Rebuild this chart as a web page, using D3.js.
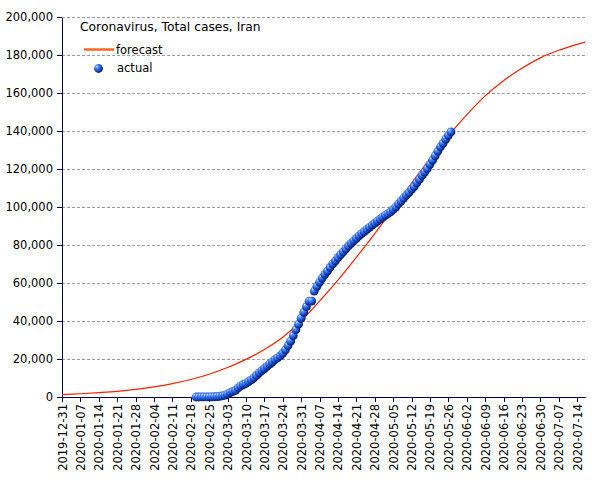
<!DOCTYPE html>
<html>
<head>
<meta charset="utf-8">
<script src="https://cdn.jsdelivr.net/npm/d3@7"></script>
<style>
  body { margin: 0; background: #fff; }
  text { font-family: "DejaVu Sans", sans-serif; fill: #000; }
</style>
</head>
<body>
<div id="chart"></div>
<script>
var svgWidth = 605;
var svgHeight = 480;

var margin = { top: 17, right: 20, bottom: 83, left: 62 };
var width = svgWidth - margin.left - margin.right;
var height = svgHeight - margin.top - margin.bottom;

// Data
// weekly tick labels on the x axis
var tickLabels = ["2019-12-31", "2020-01-07", "2020-01-14", "2020-01-21", "2020-01-28",
  "2020-02-04", "2020-02-11", "2020-02-18", "2020-02-25", "2020-03-03", "2020-03-10",
  "2020-03-17", "2020-03-24", "2020-03-31", "2020-04-07", "2020-04-14", "2020-04-21",
  "2020-04-28", "2020-05-05", "2020-05-12", "2020-05-19", "2020-05-26", "2020-06-02",
  "2020-06-09", "2020-06-16", "2020-06-23", "2020-06-30", "2020-07-07", "2020-07-14"];

var yTicks = [0, 20000, 40000, 60000, 80000, 100000, 120000, 140000, 160000, 180000, 200000];

// forecast curve
var forecastDates = ["2019-12-31", "2020-01-07", "2020-01-14", "2020-01-21", "2020-01-28",
  "2020-02-04", "2020-02-11", "2020-02-18", "2020-02-25", "2020-03-03", "2020-03-10",
  "2020-03-17", "2020-03-24", "2020-03-31", "2020-04-07", "2020-04-14", "2020-04-21",
  "2020-04-28", "2020-05-05", "2020-05-12", "2020-05-19", "2020-05-26", "2020-06-02",
  "2020-06-09", "2020-06-16", "2020-06-23", "2020-06-30", "2020-07-07", "2020-07-14",
  "2020-07-17"];
var forecastValues = [1200, 1700, 2300, 3000, 4000, 5300, 7000, 9200, 12000, 15500, 19800,
  25000, 31500, 40000, 50500, 61500, 73500, 86000, 99000, 112500, 125500, 137500, 148500,
  158500, 166500, 173000, 178500, 182500, 185600, 186800];

// actual daily totals, one per day starting at actualStart
var actualStart = "2020-02-20";
var actualValues = [2, 5, 18, 28, 43, 61, 95, 139, 245, 388,
  593, 978, 1501, 2336, 2922, 3513, 4747, 5823, 6566, 7161,
  8042, 9000, 10075, 11364, 12729, 13938, 14991, 16169, 17361, 18407,
  19644, 20610, 21638, 23049, 24811, 27017, 29406, 32332, 35408, 38309,
  41495, 44605, 47593, 50468, 50468, 55743, 58226, 60500, 62589, 64586,
  66220, 68192, 70029, 71686, 73303, 74877, 76389, 77995, 79494, 80868,
  82211, 83505, 84802, 85996, 87026, 88194, 89328, 90481, 91472, 92584,
  93657, 94640, 95646, 96448, 97424, 98647, 99970, 101650, 103135, 104691,
  106220, 107603, 109286, 110767, 112725, 114533, 116635, 118392, 120198, 122492,
  124603, 126949, 129341, 131652, 133521, 135701, 137724, 139511];

var parseDate = d3.timeParse("%Y-%m-%d");
var fmt = d3.format(",");

var forecast = forecastDates.map((d, i) => ({ date: parseDate(d), value: forecastValues[i] }));
var actual = actualValues.map((v, i) => ({ date: d3.timeDay.offset(parseDate(actualStart), i), value: v }));

var svg = d3.select("#chart")
  .append("svg")
  .attr("width", svgWidth)
  .attr("height", svgHeight);

// sphere look for the points
var defs = svg.append("defs");
var grad = defs.append("radialGradient")
  .attr("id", "ball")
  .attr("cx", "40%").attr("cy", "38%").attr("r", "65%")
  .attr("fx", "30%").attr("fy", "26%");
grad.append("stop").attr("offset", "0%").attr("stop-color", "#eef5ff");
grad.append("stop").attr("offset", "22%").attr("stop-color", "#5f98ff");
grad.append("stop").attr("offset", "60%").attr("stop-color", "#1e56dc");
grad.append("stop").attr("offset", "100%").attr("stop-color", "#07145a");

var chartGroup = svg.append("g")
  .attr("transform", `translate(${margin.left}, ${margin.top})`);

var xScale = d3.scaleTime()
  .domain([parseDate("2019-12-31"), parseDate("2020-07-17")])
  .range([0, width]);

var yScale = d3.scaleLinear()
  .domain([0, 200000])
  .range([height, 0]);

// gridlines
chartGroup.append("g")
  .selectAll("line")
  .data(yTicks.filter(d => d > 0))
  .enter()
  .append("line")
  .attr("x1", 0)
  .attr("x2", width)
  .attr("y1", d => yScale(d))
  .attr("y2", d => yScale(d))
  .attr("stroke", "#a0a0a0")
  .attr("stroke-width", 1)
  .attr("stroke-dasharray", "3,2")
  .attr("shape-rendering", "crispEdges");

// axes
var bottomAxis = d3.axisBottom(xScale)
  .tickValues(tickLabels.map(parseDate))
  .tickFormat(d3.timeFormat("%Y-%m-%d"))
  .tickSizeInner(5)
  .tickSizeOuter(0);

var leftAxis = d3.axisLeft(yScale)
  .tickValues(yTicks)
  .tickFormat(fmt)
  .tickSizeInner(5)
  .tickSizeOuter(0);

var xAxis = chartGroup.append("g")
  .attr("transform", `translate(0, ${height})`)
  .call(bottomAxis);

xAxis.selectAll("text")
  .attr("transform", "rotate(-90)")
  .attr("x", -7)
  .attr("y", 0)
  .attr("dy", "0.35em")
  .style("text-anchor", "end")
  .style("font-size", "11.5px");

var yAxis = chartGroup.append("g")
  .call(leftAxis);

yAxis.selectAll("text")
  .attr("x", -9)
  .style("font-size", "11.5px");

chartGroup.selectAll(".domain, .tick line")
  .attr("stroke", "#000050")
  .attr("shape-rendering", "crispEdges");
chartGroup.selectAll(".tick text").attr("fill", "#000");

// forecast line
var line = d3.line()
  .x(d => xScale(d.date))
  .y(d => yScale(d.value))
  .curve(d3.curveCatmullRom.alpha(0.5));

chartGroup.append("path")
  .datum(forecast)
  .attr("d", line)
  .attr("fill", "none")
  .attr("stroke", "#ff2200")
  .attr("stroke-width", 1.2);

// actual points
chartGroup.append("g")
  .selectAll("circle")
  .data(actual)
  .enter()
  .append("circle")
  .attr("cx", d => xScale(d.date))
  .attr("cy", d => yScale(d.value))
  .attr("r", 4.4)
  .attr("fill", "url(#ball)");

// title and legend
var legend = svg.append("g");

legend.append("text")
  .attr("x", 80)
  .attr("y", 31)
  .style("font-size", "12.3px")
  .text("Coronavirus, Total cases, Iran");

legend.append("line")
  .attr("x1", 84)
  .attr("x2", 114)
  .attr("y1", 49.5)
  .attr("y2", 49.5)
  .attr("stroke", "#ff6428")
  .attr("stroke-width", 2.5);

legend.append("text")
  .attr("x", 116)
  .attr("y", 53.5)
  .style("font-size", "11.5px")
  .text("forecast");

legend.append("circle")
  .attr("cx", 98.5)
  .attr("cy", 68.5)
  .attr("r", 4.4)
  .attr("fill", "url(#ball)");

legend.append("text")
  .attr("x", 117)
  .attr("y", 72)
  .style("font-size", "11.5px")
  .text("actual");
</script>
</body>
</html>
